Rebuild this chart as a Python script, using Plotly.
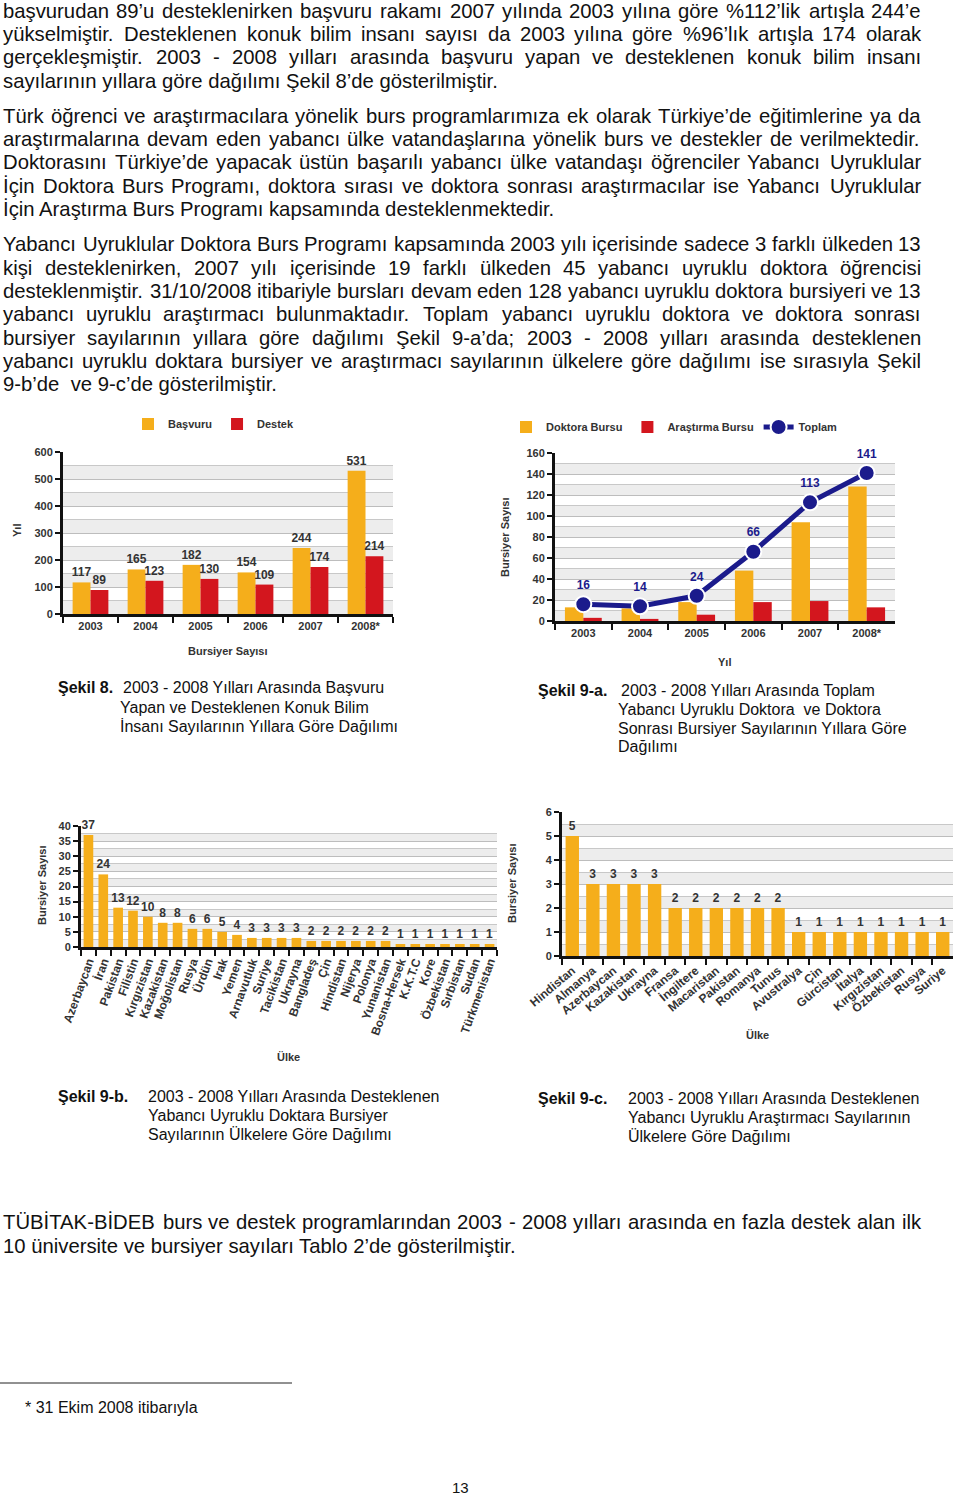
import plotly.graph_objects as go

# ---------------- data ----------------
years = ["2003", "2004", "2005", "2006", "2007", "2008*"]
basvuru = [117, 165, 182, 154, 244, 531]
destek = [89, 123, 130, 109, 174, 214]

doktora_bursu = [13, 12, 18, 48, 94, 128]
arastirma_bursu = [3, 2, 6, 18, 19, 13]
toplam = [16, 14, 24, 66, 113, 141]

ulke_b = ["Azerbaycan", "İran", "Pakistan", "Filistin", "Kırgızistan", "Kazakistan",
          "Moğolistan", "Rusya", "Ürdün", "Irak", "Yemen", "Arnavutluk", "Suriye",
          "Tacikistan", "Ukrayna", "Bangladeş", "Çin", "Hindistan", "Nijerya", "Polonya",
          "Yunanistan", "Bosna-Hersek", "K.K.T.C", "Kore", "Özbekistan", "Sırbistan",
          "Sudan", "Türkmenistan"]
doktora_ulke = [37, 24, 13, 12, 10, 8, 8, 6, 6, 5, 4, 3, 3, 3, 3, 2, 2, 2, 2, 2, 2,
                1, 1, 1, 1, 1, 1, 1]

ulke_c = ["Hindistan", "Almanya", "Azerbaycan", "Kazakistan", "Ukrayna", "Fransa",
          "İngiltere", "Macaristan", "Pakistan", "Romanya", "Tunus", "Avustralya", "Çin",
          "Gürcistan", "İtalya", "Kırgızistan", "Özbekistan", "Rusya", "Suriye"]
arastirmaci_ulke = [5, 3, 3, 3, 3, 2, 2, 2, 2, 2, 2, 1, 1, 1, 1, 1, 1, 1, 1]

# ---------------- page text ----------------
para_lines = [
    ("başvurudan 89’u desteklenirken başvuru rakamı 2007 yılında 2003 yılına göre %112’lik artışla 244’e", 11, True),
    ("yükselmiştir. Desteklenen konuk bilim insanı sayısı da 2003 yılına göre %96’lık artışla 174 olarak", 34, True),
    ("gerçekleşmiştir. 2003 - 2008 yılları arasında başvuru yapan ve desteklenen konuk bilim insanı", 57, True),
    ("sayılarının yıllara göre dağılımı Şekil 8’de gösterilmiştir.", 81, False),
    ("Türk öğrenci ve araştırmacılara yönelik burs programlarımıza ek olarak Türkiye’de eğitimlerine ya da", 116, True),
    ("araştırmalarına devam eden yabancı ülke vatandaşlarına yönelik burs ve destekler de verilmektedir.", 139, True),
    ("Doktorasını Türkiye’de yapacak üstün başarılı yabancı ülke vatandaşı öğrenciler Yabancı Uyruklular", 162, True),
    ("İçin Doktora Burs Programı, doktora sırası ve doktora sonrası araştırmacılar ise Yabancı Uyruklular", 186, True),
    ("İçin Araştırma Burs Programı kapsamında desteklenmektedir.", 209, False),
    ("Yabancı Uyruklular Doktora Burs Programı kapsamında 2003 yılı içerisinde sadece 3 farklı ülkeden 13", 244, True),
    ("kişi desteklenirken, 2007 yılı içerisinde 19 farklı ülkeden 45 yabancı uyruklu doktora öğrencisi", 268, True),
    ("desteklenmiştir. 31/10/2008 itibariyle bursları devam eden 128 yabancı uyruklu doktora bursiyeri ve 13", 291, True),
    ("yabancı uyruklu araştırmacı bulunmaktadır. Toplam yabancı uyruklu doktora ve doktora sonrası", 314, True),
    ("bursiyer sayılarının yıllara göre dağılımı Şekil 9-a’da; 2003 - 2008 yılları arasında desteklenen", 338, True),
    ("yabancı uyruklu doktara bursiyer ve araştırmacı sayılarının ülkelere göre dağılımı ise sırasıyla Şekil", 361, True),
    ("9-b’de  ve 9-c’de gösterilmiştir.", 384, False),
    ("TÜBİTAK-BİDEB burs ve destek programlarından 2003 - 2008 yılları arasında en fazla destek alan ilk", 1222, True),
    ("10 üniversite ve bursiyer sayıları Tablo 2’de gösterilmiştir.", 1246, False),
]

captions = [
    ("Şekil 8.", 57, 688, ["2003 - 2008 Yılları Arasında Başvuru", "Yapan ve Desteklenen Konuk Bilim",
                            "İnsanı Sayılarının Yıllara Göre Dağılımı"], 122, 119),
    ("Şekil 9-a.", 537, 690, ["2003 - 2008 Yılları Arasında Toplam", "Yabancı Uyruklu Doktora  ve Doktora",
                              "Sonrası Bursiyer Sayılarının Yıllara Göre", "Dağılımı"], 620, 617),
    ("Şekil 9-b.", 57, 1096, ["2003 - 2008 Yılları Arasında Desteklenen", "Yabancı Uyruklu Doktara Bursiyer",
                              "Sayılarının Ülkelere Göre Dağılımı"], 147, 147),
    ("Şekil 9-c.", 537, 1098, ["2003 - 2008 Yılları Arasında Desteklenen", "Yabancı Uyruklu Araştırmacı Sayılarının",
                              "Ülkelere Göre Dağılımı"], 627, 627),
]

# ---------------- helpers ----------------
W, H = 960, 1497


def px(x):
    return x / W


def py(y):
    return 1 - y / H


TF = "Liberation Sans, Arial, Helvetica, sans-serif"
CF = dict(family=TF, size=11, color="#333333", weight="bold")
TXT = "#111111"
BODY = 20.3

CW = {' ': 278, 'a': 556, 'b': 556, 'c': 500, 'd': 556, 'e': 556, 'f': 278, 'g': 556, 'h': 556,
      'i': 222, 'j': 222, 'k': 500, 'l': 222, 'm': 833, 'n': 556, 'o': 556, 'p': 556, 'q': 556,
      'r': 333, 's': 500, 't': 278, 'u': 556, 'v': 500, 'w': 722, 'x': 500, 'y': 500, 'z': 500,
      'A': 667, 'B': 667, 'C': 722, 'D': 722, 'E': 667, 'F': 611, 'G': 778, 'H': 722, 'I': 278,
      'J': 500, 'K': 667, 'L': 556, 'M': 833, 'N': 722, 'O': 778, 'P': 667, 'Q': 778, 'R': 722,
      'S': 667, 'T': 611, 'U': 722, 'V': 667, 'W': 944, 'X': 667, 'Y': 667, 'Z': 611,
      'ş': 500, 'ç': 500, 'ğ': 556, 'ı': 278, 'ö': 556, 'ü': 556, 'İ': 278, 'Ş': 667, 'Ç': 722,
      'Ö': 778, 'Ü': 722, 'Ğ': 778, '.': 278, ',': 278, '-': 333, '’': 222, "'": 191, '%': 889,
      '/': 278, ';': 278, ':': 278, '(': 333, ')': 333, '*': 389}


def tw(s, size):
    return sum(CW.get(c, 556) for c in s) * size / 1000.0


fig = go.Figure()


def add_text(text, x, y, size=BODY, bold=False, xanchor="left"):
    f = dict(family=TF, size=size, color=TXT)
    if bold:
        f["weight"] = "bold"
    fig.add_annotation(text=text, x=px(x), y=py(y), xref="paper", yref="paper",
                       xanchor=xanchor, yanchor="middle", showarrow=False, font=f, borderpad=0)


def add_line(text, yc, justify, x0=2, x1=920, size=BODY):
    if not justify:
        add_text(text, x0, yc, size)
        return
    words = text.split()
    widths = [tw(w, size) for w in words]
    gap = max((x1 - x0 - sum(widths)) / (len(words) - 1), 3)
    x = x0
    for w, wd in zip(words, widths):
        add_text(w, x, yc, size)
        x += wd + gap


# ---------------- traces ----------------
YEL = "#F5AE1B"
RED = "#D3161E"
NAVY = "#1B1B8C"

lbl = dict(family=TF, size=12, color="#333333", weight="bold")

fig.add_bar(x=years, y=basvuru, name="Başvuru", marker=dict(color=YEL, line=dict(width=0)),
            text=basvuru, textposition="outside", textfont=lbl, cliponaxis=False,
            constraintext="none", xaxis="x", yaxis="y", legend="legend")
fig.add_bar(x=years, y=destek, name="Destek", marker=dict(color=RED, line=dict(width=0)),
            text=destek, textposition="outside", textfont=lbl, cliponaxis=False,
            constraintext="none", xaxis="x", yaxis="y", legend="legend")

fig.add_bar(x=years, y=doktora_bursu, name="Doktora Bursu", marker=dict(color=YEL, line=dict(width=0)),
            xaxis="x2", yaxis="y2", legend="legend2")
fig.add_bar(x=years, y=arastirma_bursu, name="Araştırma Bursu", marker=dict(color=RED, line=dict(width=0)),
            xaxis="x2", yaxis="y2", legend="legend2")
fig.add_scatter(x=years, y=toplam, name="Toplam", mode="lines+markers",
                line=dict(color=NAVY, width=5),
                marker=dict(size=16, color=NAVY, line=dict(color="white", width=2)),
                cliponaxis=False, xaxis="x2", yaxis="y2", legend="legend2")
# value labels for the total line (transparent marker pushes text above the point)
fig.add_scatter(x=years, y=toplam, mode="markers+text", text=toplam, textposition="top center",
                marker=dict(size=18, color="rgba(0,0,0,0)"),
                textfont=dict(family=TF, size=12, color=NAVY, weight="bold"),
                showlegend=False, cliponaxis=False, xaxis="x2", yaxis="y2", hoverinfo="skip")

fig.add_bar(x=ulke_b, y=doktora_ulke, marker=dict(color=YEL, line=dict(width=0)),
            text=doktora_ulke, textposition="outside", textfont=lbl, cliponaxis=False,
            constraintext="none", showlegend=False, xaxis="x3", yaxis="y3")
fig.add_bar(x=ulke_c, y=arastirmaci_ulke, marker=dict(color=YEL, line=dict(width=0)),
            text=arastirmaci_ulke, textposition="outside", textfont=lbl, cliponaxis=False,
            constraintext="none", showlegend=False, xaxis="x4", yaxis="y4")


# ---------------- axes ----------------
def xax(d0, d1, anchor, angle=0, size=11):
    return dict(domain=[px(d0), px(d1)], anchor=anchor, type="category", showline=True,
                linecolor="#111111", linewidth=3, ticks="outside", tickson="boundaries",
                ticklen=6, tickwidth=2, tickcolor="#111111", tickfont=dict(CF, size=size),
                tickangle=angle, showgrid=False, fixedrange=True, automargin=False)


def yax(top, bottom, anchor, rng, dtick, minor):
    return dict(domain=[py(bottom), py(top)], anchor=anchor, range=rng, dtick=dtick,
                showline=True, linecolor="#111111", linewidth=3, ticks="outside", ticklen=5,
                tickwidth=2, tickcolor="#111111", tickfont=CF, showgrid=True,
                gridcolor="#BDBDBD", gridwidth=1, zeroline=False,
                minor=dict(dtick=minor, showgrid=True, gridcolor="#C8C8C8", ticks=""),
                fixedrange=True, automargin=False)


fig.update_layout(
    width=W, height=H, margin=dict(l=0, r=0, t=0, b=0, pad=0, autoexpand=False), autosize=False,
    paper_bgcolor="white", plot_bgcolor="white",
    barmode="group", bargap=0.35, bargroupgap=0,
    xaxis=xax(63, 393, "y"), yaxis=yax(452, 614, "x", [0, 600], 100, 50),
    xaxis2=xax(555, 895, "y2"), yaxis2=yax(453, 621, "x2", [0, 160], 20, 10),
    xaxis3=xax(81, 497, "y3", angle=-70, size=12), yaxis3=yax(826, 947, "x3", [0, 40], 5, 2.5),
    xaxis4=xax(562, 953, "y4", angle=-40, size=12), yaxis4=yax(812, 956, "x4", [0, 6], 1, 0.5),
    legend=dict(x=px(128), y=py(424), xanchor="left", yanchor="middle", orientation="h",
                font=CF, bgcolor="rgba(0,0,0,0)", itemwidth=30),
    legend2=dict(x=px(506), y=py(427), xanchor="left", yanchor="middle", orientation="h",
                 font=CF, bgcolor="rgba(0,0,0,0)", itemwidth=30),
)

# alternating background bands (derived from each axis range/grid step)
shapes = []
for ax, top, step in [("", 600, 50), ("2", 160, 10), ("3", 40, 2.5), ("4", 6, 0.5)]:
    v = 0.0
    while v < top:
        shapes.append(dict(type="rect", xref=f"x{ax} domain", yref=f"y{ax}", x0=0, x1=1,
                           y0=v, y1=v + step, fillcolor="#EDEDED", line=dict(width=0),
                           layer="below"))
        v += 2 * step
# footnote separator
shapes.append(dict(type="line", xref="paper", yref="paper", x0=0, x1=px(292),
                   y0=py(1383), y1=py(1383), line=dict(color="#222222", width=1)))
fig.update_layout(shapes=shapes)

# axis titles
axis_titles = [
    ("Yıl", 17, 531, -90), ("Bursiyer Sayısı", 228, 651, 0),
    ("Bursiyer Sayısı", 505, 537, -90), ("Yıl", 724, 662, 0),
    ("Bursiyer Sayısı", 42, 885, -90), ("Ülke", 288, 1057, 0),
    ("Bursiyer Sayısı", 512, 883, -90), ("Ülke", 757, 1035, 0),
]
for t, x, y, a in axis_titles:
    fig.add_annotation(text=t, x=px(x), y=py(y), xref="paper", yref="paper", showarrow=False,
                       textangle=a, font=CF, xanchor="center", yanchor="middle")

# body text
for text, yc, just in para_lines:
    add_line(text, yc, just)

# captions
for head, hx, hy, lines, x_first, x_rest in captions:
    add_text(head, hx, hy, size=16, bold=True)
    for i, ln in enumerate(lines):
        add_text(ln, x_first if i == 0 else x_rest, hy + 19 * i, size=16)

add_text("* 31 Ekim 2008 itibarıyla", 24, 1407, size=16)
add_text("13", 460, 1487, size=15, xanchor="center")

fig.write_html("out.html", config={"displayModeBar": False},
               post_script="document.body.style.margin='0';document.body.style.padding='0';")
